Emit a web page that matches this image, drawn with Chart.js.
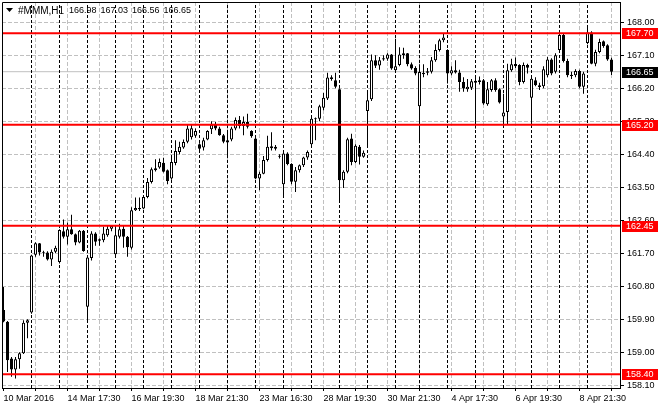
<!DOCTYPE html>
<html>
<head>
<meta charset="utf-8">
<script src="https://cdn.jsdelivr.net/npm/chart.js@4.4.1/dist/chart.umd.min.js"></script>
<style>
html, body { margin: 0; padding: 0; background: #fff; }
</style>
</head>
<body>
<canvas id="grafico" width="660" height="410"></canvas>
<script>
//-----DATOS (MMM, H1)
const opens = [160.15,159.83,158.83,158.53,158.81,158.97,159.80,160.08,161.66,161.97,
161.72,161.72,161.53,161.74,161.46,162.30,162.15,162.35,162.22,161.99,
162.31,160.24,161.57,162.24,162.08,162.05,162.19,162.37,161.67,162.15,
162.37,162.15,161.85,162.87,162.93,162.92,163.23,163.64,163.96,164.04,
164.17,163.96,163.74,164.16,164.46,164.58,164.74,164.86,164.90,164.67,
164.58,164.80,165.08,165.20,165.10,164.92,164.78,164.80,165.10,165.33,
165.17,165.28,165.03,164.83,163.74,163.87,164.24,164.56,164.60,164.35,
163.58,164.42,164.13,163.65,163.96,164.10,164.31,164.67,165.35,165.37,
165.67,165.92,166.45,166.42,166.17,163.69,163.92,164.83,164.19,164.60,
164.33,165.58,165.90,166.96,166.82,166.98,167.00,167.12,166.69,166.83,
167.15,167.15,166.85,166.75,165.71,166.58,166.62,166.65,166.96,167.24,
167.51,167.24,166.60,166.69,166.63,166.37,166.17,166.21,166.35,166.37,
166.42,165.76,166.15,166.42,166.17,165.43,165.55,166.69,166.86,166.83,
166.37,166.83,165.94,166.42,166.28,166.25,166.55,166.98,166.65,167.24,
167.65,166.94,166.57,166.55,166.67,166.24,167.43,167.72,166.87,167.19,
167.48,167.37,166.98]
const highs = [160.78,159.85,158.87,158.87,159.00,159.87,159.90,161.66,162.00,161.98,
161.77,161.75,161.80,161.90,162.35,162.62,162.54,162.75,162.24,162.33,
162.33,161.60,162.30,162.27,162.10,162.42,162.46,162.47,162.42,162.50,
162.44,162.17,162.95,163.22,163.22,163.26,163.75,164.04,164.26,164.28,
164.30,163.98,164.30,164.78,164.74,164.80,165.20,165.20,165.10,164.70,
164.85,165.05,165.30,165.28,165.15,164.95,164.99,165.15,165.40,165.44,
165.43,165.50,165.05,164.85,163.92,164.35,164.90,165.00,164.65,164.40,
164.45,164.45,164.15,164.05,164.12,164.33,164.50,165.45,165.40,165.75,
166.07,166.62,166.55,166.62,166.20,163.96,164.85,164.96,164.67,164.65,
164.50,166.10,167.12,167.10,167.05,167.10,167.15,167.13,167.55,167.32,
167.30,167.16,166.90,166.80,166.85,166.85,166.75,167.05,167.40,167.55,
167.70,167.26,166.80,166.96,166.70,166.50,166.45,166.45,166.52,166.52,
166.45,166.37,166.45,166.47,166.20,166.05,166.87,167.00,167.04,166.85,
166.90,166.87,166.50,166.50,166.35,166.80,167.05,167.02,167.15,167.72,
167.70,167.00,166.65,166.72,166.70,166.65,167.90,167.75,167.25,167.55,
167.50,167.40,167.03]
const lows = [159.82,158.46,158.33,158.28,158.55,158.95,159.38,160.05,161.60,161.64,
161.60,161.50,161.35,161.70,161.42,162.10,161.94,162.20,161.92,161.97,
161.74,159.83,161.50,161.90,161.90,162.00,162.15,162.30,161.64,162.10,
161.85,161.60,161.80,162.85,162.85,162.90,163.20,163.60,163.93,164.00,
163.90,163.58,163.70,164.10,164.40,164.55,164.70,164.80,164.85,164.50,
164.50,164.78,164.95,165.05,164.90,164.70,164.37,164.75,165.05,165.10,
164.92,165.10,164.85,163.72,163.42,163.85,164.20,164.50,164.50,164.28,
163.25,164.10,163.58,163.37,163.90,164.05,164.25,164.60,164.78,165.30,
165.60,165.88,166.40,166.20,163.10,163.48,163.88,164.10,164.15,164.12,
164.30,164.65,165.85,166.75,166.70,166.95,166.95,166.70,166.65,166.80,
167.00,166.80,166.70,166.55,164.73,166.50,166.55,166.60,166.92,167.20,
167.45,166.33,166.55,166.60,166.10,166.10,166.10,166.15,165.10,166.30,
165.75,165.72,166.10,166.10,165.78,165.14,165.20,166.65,166.75,166.28,
166.33,166.60,165.22,166.25,166.15,166.20,166.50,166.55,166.60,167.20,
166.90,166.50,166.45,166.50,166.20,166.05,167.40,166.85,166.80,167.15,
167.30,166.95,166.56]
const closes = [159.84,158.78,158.53,158.81,158.97,159.80,159.87,161.64,161.97,161.72,
161.70,161.53,161.74,161.85,162.33,162.15,162.35,162.22,161.99,162.31,
161.76,161.58,162.24,162.01,162.04,162.24,162.37,162.44,162.19,162.35,
162.15,161.86,162.87,162.93,162.90,163.23,163.64,163.99,164.02,164.19,
163.92,163.67,164.19,164.49,164.60,164.73,165.10,165.11,165.03,164.55,
164.78,165.03,165.20,165.10,164.92,164.74,164.72,165.10,165.33,165.17,
165.28,165.15,164.89,163.74,163.87,164.24,164.60,164.62,164.55,164.33,
164.42,164.13,163.65,163.96,164.10,164.31,164.46,165.37,165.38,165.71,
165.94,166.49,166.50,166.24,163.69,163.92,164.81,164.19,164.63,164.33,
164.44,165.87,166.96,166.81,166.96,167.02,167.12,166.74,166.80,167.12,
167.10,166.85,166.74,166.60,166.64,166.62,166.66,166.96,167.24,167.51,
167.58,166.60,166.69,166.63,166.37,166.19,166.24,166.39,166.40,166.42,
165.78,166.17,166.42,166.15,165.81,165.54,166.69,166.85,166.80,166.37,
166.83,166.76,166.46,166.28,166.23,166.72,166.98,166.60,167.10,167.65,
166.94,166.55,166.53,166.67,166.24,166.60,167.72,166.87,167.19,167.46,
167.35,166.98,166.65]

// separadores de dia (indice de la primera vela del dia)
const separadores = [7,14,21,28,35,42,49,56,63,70,77,84,91,98,104,111,118,125,132,139,146]

// eje X
const ticksX = [0,8,16,24,32,40,48,56,64,72,80,88,96,104,112,120,128,136,144,152]
const etiquetasX = ['10 Mar 2016','','14 Mar 17:30','','16 Mar 19:30','','18 Mar 21:30','','23 Mar 16:30','',
'28 Mar 19:30','','30 Mar 21:30','','4 Apr 17:30','','6 Apr 19:30','','8 Apr 21:30','']

// eje Y
const ticksY = [158.10,159.00,159.90,160.80,161.70,162.60,163.50,164.40,165.30,166.20,167.10,168.00]

// niveles horizontales (lineas rojas)
const niveles = [167.70,165.20,162.45,158.40]
const simbolo = '#MMM,H1'

//-----CONFIG
const N = opens.length
const ultimo = N - 1
const precioActual = closes[ultimo]

const X_MIN = -0.375, X_MAX = 154.125
const Y_MIN = 158.0236, Y_MAX = 168.5509
const FUENTE = "'Liberation Sans', Arial, sans-serif"

const idx = opens.map((_, i) => i)
const cuerpos = idx.map(i => ({ x: i, y: [opens[i], closes[i]] }))
const mechas = idx.map(i => ({ x: i, y: [lows[i], highs[i]] }))
const coloresCuerpo = idx.map(i => closes[i] >= opens[i] ? '#ffffff' : '#000000')

const datasets = []

separadores.forEach(s => {
    datasets.push({
        type: 'line',
        data: [{ x: s, y: Y_MIN }, { x: s, y: Y_MAX }],
        borderColor: '#000000',
        borderWidth: 1,
        borderDash: [3, 2],
        pointRadius: 0,
        order: 4
    })
})

datasets.push({
    type: 'line',
    data: [{ x: X_MIN, y: precioActual }, { x: X_MAX, y: precioActual }],
    borderColor: '#c0c0c0',
    borderWidth: 1,
    pointRadius: 0,
    order: 4
})

datasets.push({
    type: 'bar',
    data: mechas,
    backgroundColor: '#000000',
    borderWidth: 0,
    grouped: false,
    categoryPercentage: 0.25,
    barPercentage: 1,
    inflateAmount: 0,
    order: 2
})

datasets.push({
    type: 'bar',
    data: cuerpos,
    backgroundColor: coloresCuerpo,
    borderColor: '#000000',
    borderWidth: 1,
    borderSkipped: false,
    grouped: false,
    categoryPercentage: 0.75,
    barPercentage: 1,
    inflateAmount: 0,
    minBarLength: 1,
    order: 1
})

niveles.forEach(n => {
    datasets.push({
        type: 'line',
        data: [{ x: X_MIN, y: n }, { x: X_MAX, y: n }],
        borderColor: '#ff0000',
        borderWidth: 2,
        pointRadius: 0,
        order: 0
    })
})

// sin relleno extra de los ejes
function sinPadding(s) {
    s.paddingLeft = 0
    s.paddingRight = 0
    s.paddingTop = 0
    s.paddingBottom = 0
}

// marco, cabecera y etiquetas de precio
const extras = {
    id: 'extras',
    afterDraw(chart) {
        const ctx = chart.ctx
        const area = chart.chartArea
        const ys = chart.scales.y

        ctx.save()
        ctx.strokeStyle = '#000000'
        ctx.lineWidth = 1
        ctx.beginPath()
        ctx.moveTo(area.left + 0.5, area.bottom)
        ctx.lineTo(area.left + 0.5, area.top + 0.5)
        ctx.lineTo(area.right, area.top + 0.5)
        ctx.stroke()

        // cabecera
        ctx.fillStyle = '#000000'
        ctx.beginPath()
        ctx.moveTo(6, 8)
        ctx.lineTo(13, 8)
        ctx.lineTo(9.5, 12)
        ctx.closePath()
        ctx.fill()
        ctx.textBaseline = 'middle'
        ctx.textAlign = 'left'
        ctx.font = '10px ' + FUENTE
        ctx.fillText(simbolo, 18, 11)
        ctx.font = '9px ' + FUENTE
        const ohlc = [opens[ultimo], highs[ultimo], lows[ultimo], closes[ultimo]]
        ohlc.forEach((v, k) => ctx.fillText(v.toFixed(2), 69 + 31.5 * k, 11))

        // cajas de precio
        function caja(v, color) {
            const y = Math.round(ys.getPixelForValue(v))
            ctx.fillStyle = color
            ctx.fillRect(622, y - 5, 36, 11)
            ctx.fillStyle = '#ffffff'
            ctx.fillText(v.toFixed(2), 626, y + 0.5)
        }
        niveles.forEach(n => caja(n, '#ff0000'))
        caja(precioActual, '#000000')
        ctx.restore()
    }
}

const config = {
    type: 'bar',
    data: { datasets: datasets },
    options: {
        responsive: false,
        animation: false,
        events: [],
        layout: { padding: { left: 2, top: 2, right: 0, bottom: 0 } },
        plugins: { legend: { display: false }, tooltip: { enabled: false } },
        scales: {
            x: {
                type: 'linear',
                offset: false,
                min: X_MIN,
                max: X_MAX,
                afterBuildTicks: s => { s.ticks = ticksX.map(v => ({ value: v })) },
                afterFit: s => { s.height = 22; sinPadding(s) },
                grid: {
                    offset: false,
                    color: c => c.index === 0 ? 'rgba(0,0,0,0)' : '#c0c0c0',
                    tickColor: '#000000',
                    tickLength: 3
                },
                border: { display: true, color: '#000000', dash: [4, 2] },
                ticks: {
                    autoSkip: false,
                    maxRotation: 0,
                    minRotation: 0,
                    align: 'start',
                    padding: 2,
                    color: '#000000',
                    font: { family: FUENTE, size: 9 },
                    callback: (v, i) => etiquetasX[i]
                }
            },
            y: {
                position: 'right',
                min: Y_MIN,
                max: Y_MAX,
                afterBuildTicks: s => { s.ticks = ticksY.map(v => ({ value: v })) },
                afterFit: s => { s.width = 40; sinPadding(s) },
                grid: { color: '#c0c0c0', tickColor: '#000000', tickLength: 4 },
                border: { display: true, color: '#000000', dash: [4, 2] },
                ticks: {
                    padding: 3,
                    color: '#000000',
                    font: { family: FUENTE, size: 9 },
                    callback: v => v.toFixed(2)
                }
            }
        }
    },
    plugins: [extras]
}

const grafico = new Chart(document.getElementById('grafico'), config)
</script>
</body>
</html>
